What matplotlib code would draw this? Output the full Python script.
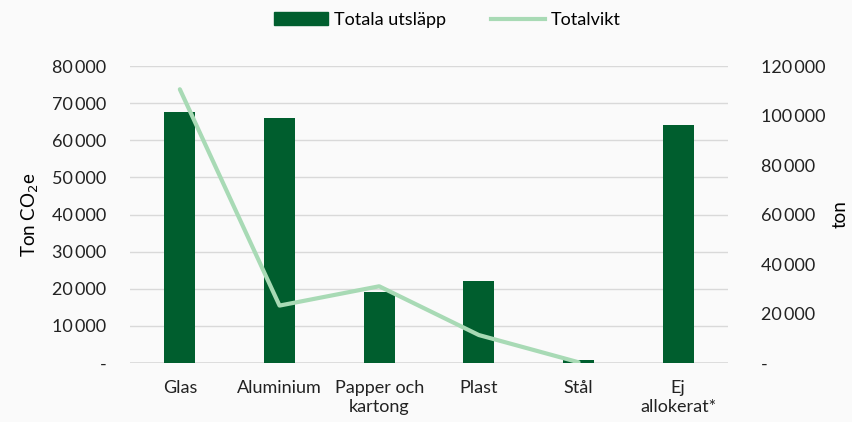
import numpy as np
import matplotlib.pyplot as plt
from matplotlib.ticker import FuncFormatter
from matplotlib.lines import Line2D
from matplotlib.patches import Patch

# data
categories = ["Glas", "Aluminium", "Papper och\nkartong", "Plast", "Stål", "Ej\nallokerat*"]
utslapp = [67500, 66000, 19000, 22200, 800, 64000]        # ton CO2e (left axis)
totalvikt = [110600, 23200, 31000, 11300, 300, np.nan]     # ton (right axis)

COLOR_BAR = "#005E2E"
COLOR_LINE = "#A8DAB5"
COLOR_GRID = "#D9D9D9"
BG = "#FAFAFA"

plt.rcParams["font.family"] = ["Lato", "DejaVu Sans"]


def fmt(v, pos):
    if v == 0:
        return "-"
    return f"{int(v):,}".replace(",", "\u2009")


fig = plt.figure(figsize=(8.52, 4.22), dpi=100)
fig.patch.set_facecolor(BG)
ax = fig.add_axes([0.1526, 0.1398, 0.7019, 0.7038])
ax.set_facecolor(BG)
ax2 = ax.twinx()

x = np.arange(len(categories))
ax.bar(x, utslapp, width=0.31, color=COLOR_BAR, zorder=3)
ax2.plot(x, totalvikt, color=COLOR_LINE, linewidth=3, solid_capstyle="round", zorder=4)

ax.set_xlim(-0.5, len(categories) - 0.5)
ax.set_ylim(0, 80000)
ax.set_yticks(np.arange(0, 80001, 10000))
ax2.set_ylim(0, 120000)
ax2.set_yticks(np.arange(0, 120001, 20000))
ax.yaxis.set_major_formatter(FuncFormatter(fmt))
ax2.yaxis.set_major_formatter(FuncFormatter(fmt))

ax.grid(axis="y", color=COLOR_GRID, linewidth=1, zorder=0)
ax.set_axisbelow(True)
for a in (ax, ax2):
    for s in a.spines.values():
        s.set_visible(False)
    a.tick_params(length=0, labelsize=13, colors="#222222")
ax.axhline(0, color=COLOR_GRID, linewidth=1.2, zorder=2)
ax.tick_params(axis="y", pad=17)
ax2.tick_params(axis="y", pad=24)
ax.tick_params(axis="x", pad=12)

ax.set_xticks(x)
ax.set_xticklabels(categories, fontsize=13, linespacing=1.25)

ax.set_ylabel("Ton CO$_2$e", fontsize=13.5, labelpad=8)
ax2.set_ylabel("ton", fontsize=13.5, labelpad=4)

handles = [Patch(color=COLOR_BAR, label="Totala utsläpp"),
           Line2D([0], [0], color=COLOR_LINE, linewidth=3, label="Totalvikt")]
fig.legend(handles=handles, loc="upper center", bbox_to_anchor=(0.525, 1.01),
           ncol=2, frameon=False, fontsize=13, handlelength=3.0,
           handletextpad=0.3, columnspacing=2.5)

plt.savefig("out.png", dpi=100, facecolor=BG)
